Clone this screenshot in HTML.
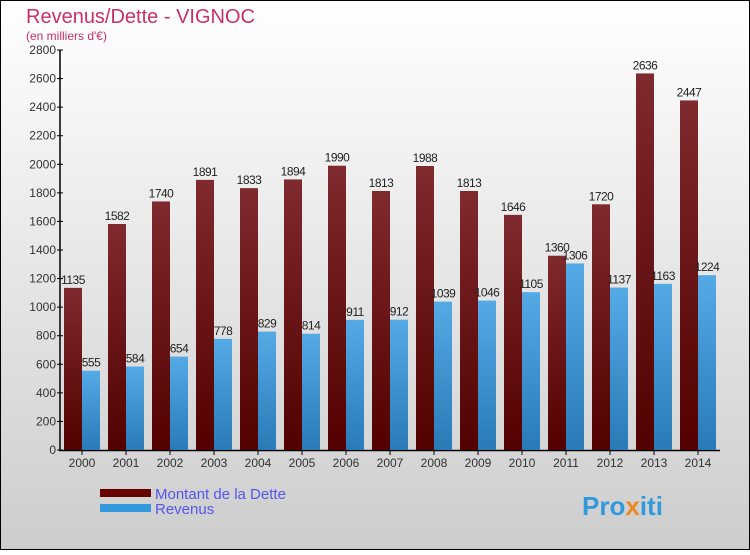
<!DOCTYPE html>
<html><head><meta charset="utf-8"><style>
body{margin:0}
svg text{font-family:"Liberation Sans",sans-serif}
</style></head><body>
<svg width="750" height="550" xmlns="http://www.w3.org/2000/svg">
<defs>
<linearGradient id="bg" x1="0" y1="0" x2="0" y2="1"><stop offset="0" stop-color="#ffffff"/><stop offset="1" stop-color="#cdcdcd"/></linearGradient>
<linearGradient id="gd" x1="0" y1="0" x2="0" y2="1"><stop offset="0" stop-color="#7f2a2e"/><stop offset="1" stop-color="#520000"/></linearGradient>
<linearGradient id="gr" x1="0" y1="0" x2="0" y2="1"><stop offset="0" stop-color="#55aae6"/><stop offset="1" stop-color="#2a7ab8"/></linearGradient>
</defs>
<rect x="0.5" y="0.5" width="749" height="549" fill="url(#bg)" stroke="#000"/>
<text x="26" y="23" font-size="20" fill="#c8306a">Revenus/Dette - VIGNOC</text>
<text x="26" y="40" font-size="12" fill="#c8306a">(en milliers d'€)</text>
<g id="axes"></g>
<g id="bars"></g>
<rect x="100" y="489" width="51" height="8" fill="#660000"/>
<rect x="100" y="504" width="51" height="8" fill="#3399dd"/>
<text x="155" y="499" font-size="15" fill="#5555ee">Montant de la Dette</text>
<text x="155" y="514" font-size="15" fill="#5555ee">Revenus</text>
<text x="582" y="515" font-size="26" font-weight="bold" fill="#3399dd">Pro<tspan fill="#ee8822">x</tspan>iti</text>
</svg>
<script>
const years=["2000","2001","2002","2003","2004","2005","2006","2007","2008","2009","2010","2011","2012","2013","2014"];
const dette=[1135,1582,1740,1891,1833,1894,1990,1813,1988,1813,1646,1360,1720,2636,2447];
const revenus=[555,584,654,778,829,814,911,912,1039,1046,1105,1306,1137,1163,1224];
const yTicks=[0,200,400,600,800,1000,1200,1400,1600,1800,2000,2200,2400,2600,2800];
const NS="http://www.w3.org/2000/svg";
const y=v=>450-v*400/2800;
const xg=i=>60+i*44;
function mk(tag,attrs,parent,txt){const e=document.createElementNS(NS,tag);for(const k in attrs)e.setAttribute(k,attrs[k]);if(txt!==undefined)e.textContent=txt;parent.appendChild(e);return e;}
const ax=document.getElementById('axes'),bg=document.getElementById('bars');
yTicks.forEach(t=>{
  const l=mk('line',{x1:57,x2:63,y1:y(t),y2:y(t),stroke:'#000'},ax);
  
  
  const tx=mk('text',{x:56,y:y(t)+4,'font-size':12,fill:'#333','text-anchor':'end'},ax,t);
  
  
});
years.forEach((yr,i)=>{
  const d=mk('rect',{x:xg(i)+4,y:y(dette[i]),width:18,height:450-y(dette[i]),fill:'url(#gd)'},bg);
  
  
  const r=mk('rect',{x:xg(i)+22,y:y(revenus[i]),width:18,height:450-y(revenus[i]),fill:'url(#gr)'},bg);
  
  
  const dl=mk('text',{x:xg(i)+13,y:y(dette[i])-4,'font-size':12,fill:'#222','text-anchor':'middle','letter-spacing':'-0.5'},bg,dette[i]);
  
  
  const rl=mk('text',{x:xg(i)+31,y:y(revenus[i])-4,'font-size':12,fill:'#222','text-anchor':'middle','letter-spacing':'-0.5'},bg,revenus[i]);
  
  
  const tk=mk('line',{x1:xg(i)+22,x2:xg(i)+22,y1:450,y2:455,stroke:'#000'},ax);
  
  
  const xl=mk('text',{x:xg(i)+22,y:467,'font-size':12,fill:'#333','text-anchor':'middle'},ax,yr);
  
  
});
const ya=mk('line',{x1:60,x2:60,y1:50,y2:451,stroke:'#000','stroke-width':1.5},ax);


const xa=mk('line',{x1:59,x2:720,y1:450.5,y2:450.5,stroke:'#000','stroke-width':1.5},ax);


</script>
</body></html>
